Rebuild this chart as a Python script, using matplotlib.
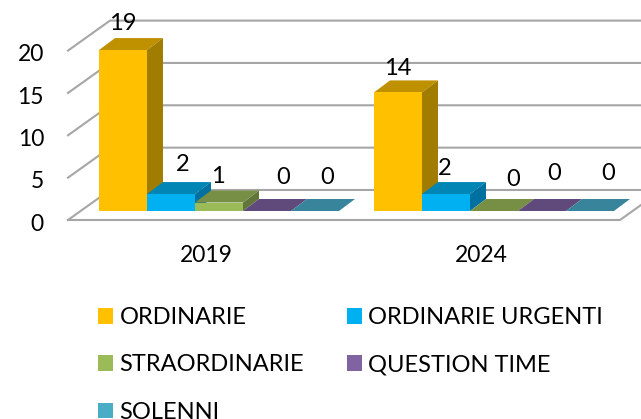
import matplotlib
matplotlib.use("Agg")
import matplotlib.pyplot as plt
from matplotlib.patches import Patch, Polygon

years = ["2019", "2024"]
series = ["ORDINARIE", "ORDINARIE URGENTI", "STRAORDINARIE", "QUESTION TIME", "SOLENNI"]
ordinarie = [19, 14]
urgenti = [2, 2]
straordinarie = [1, 0]
question_time = [0, 0]
solenni = [0, 0]
y_ticks = [0, 5, 10, 15, 20]

front_cols = ["#FFC000", "#00B0F0", "#9BBB59", "#8064A2", "#4BACC6"]
top_cols = ["#BF9000", "#0085B5", "#778F45", "#604A7B", "#38849B"]
side_cols = ["#A07C00", "#0070A0", "#62763A", "#4F3D66", "#2E6E80"]
grid_col = "#A6A6A6"

plt.rcParams["font.family"] = ["Lato", "DejaVu Sans"]

# pixels per unit on the bar plane, group 0 starts at px 99, value 0 at px 211
sx = 275
sy = 8.47
x0 = 99
y0 = 211
w = 48 / sx
bar_dx = 16 / sx
bar_dy = 12 / sy

fig = plt.figure(figsize=(6.41, 4.19), dpi=100)
ax = fig.add_axes([0, 0, 1, 1])
ax.set_xlim(-x0 / sx, (641 - x0) / sx)
ax.set_ylim((y0 - 419) / sy, y0 / sy)
ax.axis("off")

# walls and floor
wall_l = (68 - x0) / sx
wall_r = (620 - x0) / sx
wall_dx = 42 / sx
front_shift = (y0 - 220) / sy
back_shift = (y0 - 190) / sy

ax.add_patch(Polygon([(wall_l, front_shift), (wall_r, front_shift),
                      (wall_r + wall_dx, back_shift), (wall_l + wall_dx, back_shift)],
                     facecolor="white", edgecolor="none", zorder=1))
ax.plot([wall_l, wall_r, wall_r + wall_dx], [front_shift, front_shift, back_shift],
        color=grid_col, lw=1.5, zorder=2)
for t in y_ticks:
    ax.plot([wall_l, wall_l + wall_dx, wall_r + wall_dx],
            [t + front_shift, t + back_shift, t + back_shift],
            color=grid_col, lw=1.5, zorder=1.5)
    ax.text(44 / sx - x0 / sx, t + front_shift - 0.5, str(t), ha="right", va="center",
            fontsize=16.5, color="black", zorder=6)

# bars
values = [ordinarie, urgenti, straordinarie, question_time, solenni]
for c in range(len(years)):
    for i, vals in enumerate(values):
        v = vals[c]
        left = c + i * w
        z = 3 + i * 0.1
        ax.add_patch(Polygon([(left, v), (left + w, v), (left + w + bar_dx, v + bar_dy),
                              (left + bar_dx, v + bar_dy)],
                             facecolor=top_cols[i], edgecolor="none", zorder=z))
        if v > 0:
            ax.bar(left, v, width=w, align="edge", color=front_cols[i], zorder=z + 0.02)
            ax.add_patch(Polygon([(left + w, 0), (left + w + bar_dx, bar_dy),
                                  (left + w + bar_dx, v + bar_dy), (left + w, v)],
                                 facecolor=side_cols[i], edgecolor="none", zorder=z + 0.01))

# data labels, offsets in px from the bar's front top left corner
label_dx = [[24, 36, 23, 40, 36], [24, 23, 43, 36, 42]]
label_dy = [[27, 30, 26, 34, 34], [24, 26, 32, 38, 38]]
for c in range(len(years)):
    for i, vals in enumerate(values):
        v = vals[c]
        ax.text(c + i * w + label_dx[c][i] / sx, v + label_dy[c][i] / sy, str(v),
                ha="center", va="center", fontsize=17, color="black", zorder=6)

# category labels
for c, year in enumerate(years):
    ax.text(c + 107 / sx, (y0 - 255) / sy, year, ha="center", va="center",
            fontsize=16.5, color="black", zorder=6)

# legend fills by column
order = [0, 2, 4, 1, 3]
handles = [Patch(facecolor=front_cols[i], edgecolor="none", label=series[i]) for i in order]
fig.legend(handles=handles, ncols=2, frameon=False, loc="upper left",
           bbox_to_anchor=(98 / 641, 1 - 307 / 419), bbox_transform=fig.transFigure,
           fontsize=17, handlelength=0.64, handleheight=0.64, handletextpad=0.27,
           labelspacing=1.12, columnspacing=1.8, borderpad=0, borderaxespad=0)

fig.savefig("out.png", dpi=100)
